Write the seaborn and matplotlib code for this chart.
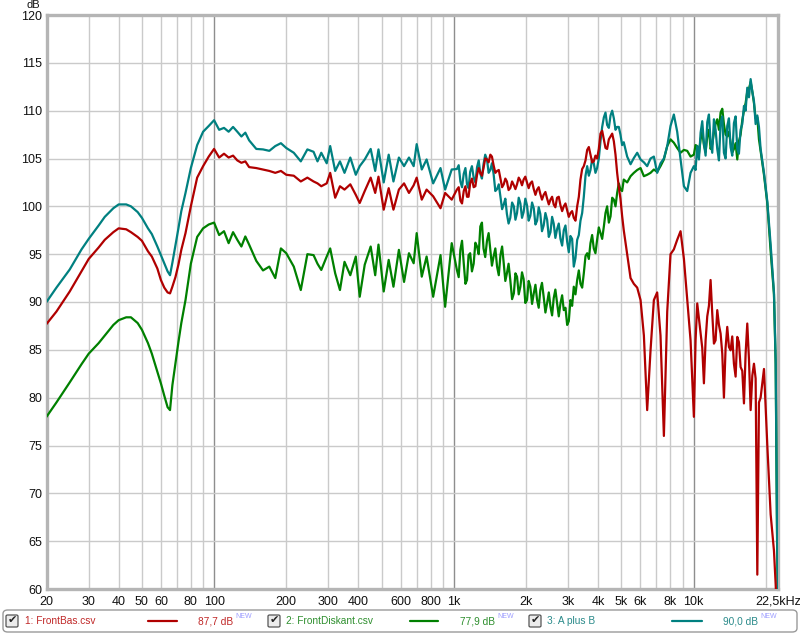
import matplotlib
matplotlib.use("Agg")
import matplotlib.pyplot as plt
import numpy as np
import pandas as pd
import seaborn as sns
from matplotlib.patches import FancyBboxPatch
from matplotlib.lines import Line2D

# ---------------- data ----------------
FREQ_LOW = [20, 22, 25, 28, 30, 33, 35, 38, 40, 43, 45, 48, 50, 53, 55, 58, 60, 62, 64, 65.5,
            67, 69, 71, 73, 76, 80, 85, 90, 95, 100]
RED_LOW = [87.7, 89.0, 91.1, 93.2, 94.5, 95.7, 96.5, 97.3, 97.7, 97.6, 97.3, 96.8, 96.4, 95.3, 94.75,
           93.5, 92.3, 91.5, 91.0, 90.9, 91.6, 92.6, 93.9, 95.45, 97.2, 100.0, 103.0, 104.2, 105.2, 106.0]
GREEN_LOW = [78.0, 79.5, 81.6, 83.5, 84.6, 85.7, 86.5, 87.6, 88.1, 88.4, 88.4, 87.8, 87.1, 85.7, 84.6,
             82.7, 81.5, 80.2, 79.0, 78.7, 81.3, 83.6, 85.8, 87.8, 90.2, 94.0, 96.8, 97.7, 98.1, 98.3]
TEAL_LOW = [90.0, 91.5, 93.4, 95.5, 96.6, 98.0, 98.9, 99.8, 100.2, 100.2, 100.0, 99.4, 98.8, 97.7, 97.1,
            95.8, 94.9, 94.0, 93.2, 92.8, 94.1, 95.9, 97.7, 99.5, 101.4, 104.0, 106.4, 107.8, 108.4, 109.0]

FREQ_MID = [105, 110, 115, 120, 125, 130, 135, 140, 150,
            160, 170, 180, 190, 200, 215, 230, 245, 260, 270, 280, 295, 305, 320, 335, 350, 370, 390,
            405, 425, 450, 470, 485, 510, 535, 560, 590, 620, 650, 680, 700, 735, 770, 820, 880, 920, 980]
RED_MID = [105.1, 105.5, 105.1, 105.3, 104.8, 104.55, 104.7, 104.1, 104.0,
           103.85, 103.7, 103.5, 103.7, 103.3, 103.2, 102.6, 103.0, 102.6, 102.4, 102.1, 102.4, 103.5,
           100.9, 102.1, 101.75, 102.3, 101.2, 100.35, 101.6, 103.0, 101.4, 103.1, 99.65, 101.9, 99.65,
           101.75, 102.4, 101.4, 102.2, 103.0, 100.7, 101.75, 101.05, 99.8, 101.4, 100.7]
GREEN_MID = [97.0, 97.4, 96.15, 97.3, 96.5, 95.8, 96.85, 96.0, 94.3,
             93.3, 93.7, 92.5, 95.6, 95.1, 93.7, 91.25, 95.0, 94.9, 94.0, 93.35, 94.75, 95.6,
             93.0, 91.25, 94.2, 92.8, 94.75, 90.55, 93.9, 95.8, 92.8, 96.0, 91.1, 94.4, 91.6,
             95.45, 92.1, 95.1, 94.05, 97.2, 92.65, 94.75, 90.55, 94.9, 89.5, 96.15]
TEAL_MID = [108.0, 108.2, 107.8, 108.3, 107.8, 107.3, 107.7, 106.9, 106.0,
            105.95, 105.8, 106.3, 106.6, 106.1, 105.6, 104.7, 105.95, 105.7, 104.7, 105.6, 104.5, 106.3,
            103.7, 104.7, 103.5, 105.1, 103.3, 104.2, 104.9, 106.0, 103.7, 105.95, 102.5, 105.4, 102.6,
            105.1, 104.2, 105.1, 104.2, 106.5, 103.85, 104.9, 102.4, 104.0, 101.75, 103.85]

FREQ_KHZ = [1030, 1065, 1100, 1135, 1170, 1210, 1250, 1290, 1330, 1375,
            1420, 1465, 1515, 1565, 1615, 1665, 1720, 1780, 1835, 1895,
            1955, 2020, 2085, 2155, 2225, 2295, 2370, 2450, 2530, 2610,
            2695, 2785, 2875, 2970, 3065, 3165, 3270, 3375, 3485, 3600,
            3715, 3835, 3960, 4090, 4225, 4360, 4505, 4650, 4800, 4955,
            5115]
RED_KHZ = [101.75, 100.6, 101.6, 101.0, 102.4, 102.0, 103.3, 103.5, 104.0, 104.9,
           105.4, 104.3, 103.7, 102.9, 102.3, 102.6, 101.9, 102.2, 102.3, 102.7,
           102.8, 102.5, 102.4, 101.8, 101.75, 101.3, 101.2, 100.8, 100.7, 100.2,
           100.9, 100.1, 100.0, 99.6, 99.3, 98.8, 100.0, 102.8, 104.2, 105.9,
           105.4, 104.7, 105.0, 107.6, 107.0, 106.0, 107.3, 106.8, 103.5, 100.8,
           97.5]
GREEN_KHZ = [93.35, 95.45, 94.05, 92.3, 95.1, 94.0, 95.8, 97.9, 95.6, 96.4,
             95.45, 94.75, 93.7, 94.9, 94.05, 93.0, 92.3, 90.9, 92.65, 91.6,
             92.4, 90.2, 91.6, 90.9, 90.2, 91.25, 90.55, 89.9, 89.5, 90.4,
             89.9, 89.85, 89.15, 87.6, 90.2, 91.6, 92.3, 91.9, 93.0, 95.1,
             96.15, 95.6, 96.5, 97.2, 97.9, 100.0, 98.95, 100.7, 101.4, 101.75,
             102.8]
TEAL_KHZ = [103.9, 102.6, 103.4, 102.3, 103.6, 103.0, 104.1, 103.4, 104.4, 104.9,
            103.8, 103.4, 101.8, 101.0, 100.2, 99.2, 98.8, 100.0, 99.3, 100.3,
            99.4, 100.1, 99.0, 99.8, 98.5, 99.2, 98.0, 98.6, 97.3, 98.2,
            97.6, 96.6, 97.5, 96.3, 96.9, 93.7, 96.5, 98.5, 101.0, 104.2,
            103.8, 104.5, 104.0, 106.8, 109.3, 108.5, 109.5, 109.2, 108.3, 107.5,
            106.7]

# extra readings between the samples above (1 kHz - 5 kHz)
FREQ_KHZ_B = [1048, 1082, 1118, 1152, 1190, 1230, 1270, 1310, 1352, 1397,
              1442, 1490, 1540, 1590, 1640, 1692, 1750, 1807, 1865, 1925,
              1987, 2052, 2120, 2190, 2260, 2332, 2410, 2490, 2570, 2652,
              2740, 2830, 2922, 3017, 3115, 3217, 3322, 3430, 3542, 3657,
              3775, 3897, 4025, 4157, 4292, 4432, 4577, 4725, 4877, 5035]
RED_KHZ_B = [102.0, 100.3, 102.1, 101.0, 102.9, 102.1, 104.0, 103.2, 105.0, 104.6,
             105.2, 103.5, 103.8, 102.0, 102.9, 101.7, 102.6, 101.8, 103.0, 102.2,
             103.1, 101.9, 102.6, 101.2, 102.0, 100.7, 101.5, 100.2, 101.0, 99.9,
             101.0, 99.5, 100.3, 98.9, 99.5, 98.5, 101.0, 103.9, 104.8, 106.2,
             104.6, 105.3, 106.0, 107.9, 106.1, 107.0, 107.6, 105.4, 102.0, 99.0]
GREEN_KHZ_B = [92.6, 96.4, 91.9, 94.9, 93.2, 96.2, 95.0, 98.3, 94.7, 97.2,
               93.8, 95.6, 92.8, 95.8, 92.2, 94.0, 90.3, 93.0, 90.8, 93.1,
               89.9, 92.2, 89.8, 91.8, 89.4, 92.0, 88.9, 91.0, 88.6, 91.3,
               88.5, 90.7, 89.4, 88.0, 89.6, 90.8, 93.3, 91.5, 94.8, 94.5,
               97.0, 95.1, 97.8, 96.6, 99.3, 98.3, 100.9, 100.0, 102.4, 101.6]
TEAL_KHZ_B = [104.3, 102.0, 104.0, 101.9, 104.2, 102.5, 104.8, 102.9, 105.4, 103.5,
              104.5, 101.6, 102.3, 99.7, 100.8, 98.2, 100.4, 98.6, 100.9, 98.8,
              100.8, 98.5, 100.4, 98.1, 99.9, 97.4, 99.3, 96.8, 98.9, 96.7,
              98.2, 95.9, 98.0, 95.2, 96.6, 94.6, 97.0, 99.3, 103.2, 103.2,
              104.9, 103.5, 105.0, 108.3, 109.8, 108.2, 110.0, 108.0, 108.3, 106.4]

FREQ_TOP = [5285, 5460, 5635, 5820, 6010, 6205, 6405, 6615, 6830, 7050,
            7280, 7520, 7765, 8015, 8275, 8545, 8825, 9115, 9410, 9715,
            10030, 10360, 10700, 11045, 11405, 11775, 12160, 12555, 12965, 13385,
            13820, 14270, 14735, 15215, 15710, 16225, 16750, 17300, 17860, 18445,
            19040, 19665, 20305, 20965, 21645, 22000, 22300, 22500]
RED_TOP = [95.0, 92.5, 91.9, 91.5, 90.2, 86.5, 78.7, 84.95, 90.2, 91.0,
           86.5, 76.0, 89.0, 95.0, 95.5, 96.5, 97.4, 94.5, 90.2, 86.0,
           78.0, 89.85, 86.7, 81.5, 88.5, 92.3, 85.65, 89.15, 86.7, 80.0,
           87.4, 84.95, 83.55, 86.35, 83.2, 79.4, 87.75, 78.7, 83.55, 61.5,
           80.0, 83.0, 75.0, 67.8, 64.0, 60.5, 57.0, 55.0]
GREEN_TOP = [102.5, 103.15, 103.5, 103.8, 104.0, 103.15, 103.3, 103.5, 103.85, 103.6,
             104.2, 104.9, 106.3, 107.0, 106.65, 106.1, 105.6, 105.9, 105.8, 105.2,
             105.4, 106.3, 107.0, 106.4, 107.3, 106.0, 107.7, 109.1, 109.8, 108.6,
             107.3, 106.65, 106.0, 104.9, 107.5, 110.0, 112.0, 113.0, 110.8, 109.3,
             105.8, 103.3, 100.3, 95.3, 90.8, 83.5, 65.0, 57.5]
TEAL_TOP = [105.2, 104.4, 105.05, 105.6, 104.9, 104.6, 104.2, 105.0, 105.2, 103.5,
            104.5, 105.0, 106.3, 108.4, 109.6, 107.8, 104.9, 102.1, 101.6, 103.5,
            104.2, 106.3, 107.7, 106.6, 108.8, 106.8, 109.1, 106.0, 108.7, 105.6,
            108.4, 106.2, 108.7, 106.0, 108.0, 110.5, 112.4, 113.3, 111.0, 109.5,
            106.0, 103.5, 100.5, 96.0, 91.0, 84.0, 66.0, 58.0]

# extra readings between the samples above (10 kHz - 19 kHz)
FREQ_TOP_B = [10195, 10530, 10870, 11225, 11590, 11965, 12355, 12760, 13175, 13600,
              14045, 14500, 14975, 15460, 15965, 16485, 17025, 17580, 18150, 18740]
RED_TOP_B = [86.0, 88.3, 85.2, 86.0, 89.6, 88.8, 86.0, 87.6, 84.6, 85.2,
             85.3, 86.4, 82.2, 85.8, 82.8, 84.6, 84.0, 82.3, 82.0, 79.5]
GREEN_TOP_B = [106.4, 105.5, 107.8, 105.7, 108.0, 106.5, 108.6, 108.0, 110.2, 107.5,
               107.8, 105.6, 106.6, 106.8, 109.0, 110.8, 112.3, 112.0, 109.2, 107.0]
TEAL_TOP_B = [103.8, 104.9, 108.9, 105.3, 109.6, 105.6, 108.0, 104.8, 109.4, 105.0,
              109.2, 105.3, 109.4, 105.5, 108.6, 110.0, 111.4, 112.0, 108.6, 108.3]

CURVES = ["1: FrontBas.csv", "2: FrontDiskant.csv", "3: A plus B"]
LEGEND_LEVELS = ["87,7 dB", "77,9 dB", "90,0 dB"]
X_TICKS = [20, 30, 40, 50, 60, 80, 100, 200, 300, 400, 600, 800, 1000, 2000, 3000, 4000,
           5000, 6000, 8000, 10000, 22500]
X_LABELS = ["20", "30", "40", "50", "60", "80", "100", "200", "300", "400", "600", "800", "1k",
            "2k", "3k", "4k", "5k", "6k", "8k", "10k", "22,5kHz"]
Y_TICKS = [60, 65, 70, 75, 80, 85, 90, 95, 100, 105, 110, 115, 120]

# ---------------- assemble ----------------
freq = FREQ_LOW + FREQ_MID + FREQ_KHZ + FREQ_KHZ_B + FREQ_TOP + FREQ_TOP_B
red = RED_LOW + RED_MID + RED_KHZ + RED_KHZ_B + RED_TOP + RED_TOP_B
green = GREEN_LOW + GREEN_MID + GREEN_KHZ + GREEN_KHZ_B + GREEN_TOP + GREEN_TOP_B
teal = TEAL_LOW + TEAL_MID + TEAL_KHZ + TEAL_KHZ_B + TEAL_TOP + TEAL_TOP_B
assert len(freq) == len(red) == len(green) == len(teal)

df = pd.concat([
    pd.DataFrame({"Frequency": freq, "Level": red, "Curve": CURVES[0]}),
    pd.DataFrame({"Frequency": freq, "Level": green, "Curve": CURVES[1]}),
    pd.DataFrame({"Frequency": freq, "Level": teal, "Curve": CURVES[2]}),
], ignore_index=True)

sns.set_style("white")
plt.rcParams['font.family'] = ['Liberation Sans', 'DejaVu Sans']

LINE_COLORS = {CURVES[0]: "#b00000", CURVES[1]: "#008000", CURVES[2]: "#008080"}
TEXT_COLORS = ["#c02828", "#2e8f2e", "#2a8a8a"]

W, H = 800, 634
fig = plt.figure(figsize=(W / 100, H / 100), dpi=100)
fig.patch.set_facecolor("white")

L, R, T, B = 46.5, 778, 15, 589
ax = fig.add_axes([L / W, 1 - B / H, (R - L) / W, (B - T) / H])

# grid
grid_x = [f * m for m in (10, 100, 1000) for f in range(2, 10)] + [10, 100, 1000, 10000, 20000]
grid_x = sorted(set(g for g in grid_x if 20 <= g <= 20000))
for g in grid_x:
    dark = g in (100, 1000, 10000)
    ax.axvline(g, color="#8e8e8e" if dark else "#cacaca", lw=1.0, zorder=0)
for yv in Y_TICKS[1:-1]:
    ax.axhline(yv, color="#cacaca", lw=1.0, zorder=0)

sns.lineplot(data=df, x="Frequency", y="Level", hue="Curve",
             hue_order=[CURVES[1], CURVES[2], CURVES[0]], palette=LINE_COLORS,
             estimator=None, sort=True, linewidth=1.6, legend=False, ax=ax, zorder=3)

ax.set_xscale("log")
ax.set_xlim(20, 22500)
ax.set_ylim(60, 120)
ax.xaxis.set_minor_locator(matplotlib.ticker.NullLocator())
ax.set_xticks(X_TICKS)
ax.set_xticklabels(X_LABELS)
ax.set_yticks(Y_TICKS)
ax.set_yticklabels([str(v) for v in Y_TICKS])
ax.tick_params(axis="both", length=0, labelsize=9, colors="#111111")
ax.tick_params(axis="x", pad=5)
ax.tick_params(axis="y", pad=3)
ax.set_xlabel("")
ax.set_ylabel("")
ax.grid(False)
for s in ax.spines.values():
    s.set_color("#b5b5b5")
    s.set_linewidth(2.4)

fig.text(33 / W, 1 - 0.2 / H, "dB", fontsize=8, ha="center", va="top", color="#111111")

# ---------------- legend strip ----------------
def fx(px):
    return px / W

def fy(py):
    return 1 - py / H

box = FancyBboxPatch((fx(3), fy(632)), fx(794), (632 - 610) / H,
                     boxstyle="round,pad=0,rounding_size=0.006",
                     transform=fig.transFigure, facecolor="white",
                     edgecolor="#9a9a9a", lw=1.0)
fig.patches.append(box)

yc = 621
items = [
    (6, 25, 148, 177, 233, 235),
    (268, 286, 410, 438, 495, 497),
    (529, 547, 672, 702, 758, 760),
]
for i, (cb, tx, l0, l1, vr, nw) in enumerate(items):
    chk = FancyBboxPatch((fx(cb), fy(627)), 12 / W, 12 / H,
                         boxstyle="round,pad=0,rounding_size=0.002",
                         transform=fig.transFigure, facecolor="#ececec",
                         edgecolor="#555555", lw=0.9)
    fig.patches.append(chk)
    fig.text(fx(cb + 6.5), fy(yc - 0.5), "\u2714", fontsize=8, ha="center", va="center",
             color="#222222", family=["DejaVu Sans"])
    fig.text(fx(tx), fy(yc), CURVES[i], fontsize=7.3, ha="left", va="center",
             color=TEXT_COLORS[i])
    fig.lines.append(Line2D([fx(l0), fx(l1)], [fy(yc), fy(yc)], transform=fig.transFigure,
                            color=LINE_COLORS[CURVES[i]], lw=1.6))
    fig.text(fx(vr), fy(yc), LEGEND_LEVELS[i], fontsize=7.3, ha="right", va="center",
             color=TEXT_COLORS[i])
    fig.text(fx(nw), fy(yc - 4), "NEW", fontsize=5, ha="left", va="center", color="#9c9cff")

fig.savefig("out.png", dpi=100, facecolor="white")
